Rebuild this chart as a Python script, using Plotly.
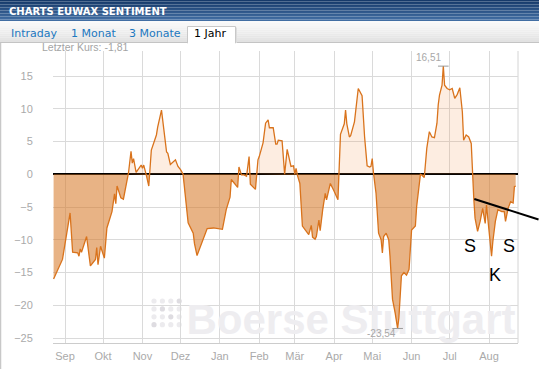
import pandas as pd
import plotly.graph_objects as go

# ---------------- data ----------------
DATES = [
    '2010-08-23', '2010-08-30', '2010-09-05', '2010-09-07', '2010-09-11', '2010-09-12',
    '2010-09-13', '2010-09-14', '2010-09-18', '2010-09-21', '2010-09-25', '2010-09-26',
    '2010-09-27', '2010-09-29', '2010-10-02', '2010-10-04', '2010-10-08', '2010-10-10',
    '2010-10-11', '2010-10-12', '2010-10-15', '2010-10-17', '2010-10-21', '2010-10-23',
    '2010-10-24', '2010-10-25', '2010-10-27', '2010-10-31', '2010-11-01', '2010-11-02',
    '2010-11-04', '2010-11-06', '2010-11-08', '2010-11-12', '2010-11-13', '2010-11-16',
    '2010-11-20', '2010-11-21', '2010-11-23', '2010-11-27', '2010-11-29', '2010-12-01',
    '2010-12-03', '2010-12-04', '2010-12-07', '2010-12-11', '2010-12-12', '2010-12-14',
    '2010-12-18', '2010-12-22', '2010-12-27', '2011-01-03', '2011-01-06', '2011-01-09',
    '2011-01-10', '2011-01-15', '2011-01-16', '2011-01-18', '2011-01-20', '2011-01-22',
    '2011-01-24', '2011-01-25', '2011-01-29', '2011-01-31', '2011-02-01', '2011-02-04',
    '2011-02-06', '2011-02-08', '2011-02-09', '2011-02-12', '2011-02-14', '2011-02-15',
    '2011-02-16', '2011-02-19', '2011-02-21', '2011-02-23', '2011-02-26', '2011-02-28',
    '2011-03-01', '2011-03-02', '2011-03-03', '2011-03-05', '2011-03-07', '2011-03-12',
    '2011-03-14', '2011-03-15', '2011-03-17', '2011-03-18', '2011-03-20', '2011-03-21',
    '2011-03-23', '2011-03-25', '2011-03-26', '2011-03-29', '2011-04-01', '2011-04-04',
    '2011-04-06', '2011-04-09', '2011-04-10', '2011-04-11', '2011-04-13', '2011-04-14',
    '2011-04-17', '2011-04-19', '2011-04-20', '2011-04-23', '2011-04-25', '2011-04-27',
    '2011-04-29', '2011-04-30', '2011-05-01', '2011-05-02', '2011-05-04', '2011-05-06',
    '2011-05-08', '2011-05-09', '2011-05-10', '2011-05-12', '2011-05-14', '2011-05-15',
    '2011-05-17', '2011-05-19', '2011-05-21', '2011-05-22', '2011-05-24', '2011-05-26',
    '2011-05-28', '2011-05-30', '2011-06-01', '2011-06-04', '2011-06-05', '2011-06-08',
    '2011-06-09', '2011-06-11', '2011-06-13', '2011-06-15', '2011-06-17', '2011-06-19',
    '2011-06-21', '2011-06-22', '2011-06-23', '2011-06-25', '2011-06-26', '2011-06-27',
    '2011-06-29', '2011-07-01', '2011-07-03', '2011-07-05', '2011-07-07', '2011-07-09',
    '2011-07-11', '2011-07-12', '2011-07-14', '2011-07-16', '2011-07-18', '2011-07-20',
    '2011-07-21', '2011-07-23', '2011-07-25', '2011-07-27', '2011-07-29', '2011-07-30',
    '2011-08-01', '2011-08-03', '2011-08-04', '2011-08-06', '2011-08-08', '2011-08-11',
    '2011-08-13', '2011-08-14', '2011-08-16', '2011-08-18', '2011-08-20', '2011-08-21',
    '2011-08-22',
]
VALUES = [
    -16.0, -13.0, -5.9, -11.9, -12.0, -12.5,
    -11.4, -11.9, -9.5, -14.0, -13.0, -11.2,
    -13.8, -11.0, -12.8, -8.2, -5.7, -3.0,
    -4.5, -1.8, -3.6, -3.8, 0.2, 3.5,
    1.7, 2.4, 0.3, 1.4, 0.9, 1.4,
    -0.1, -1.8, 3.7, 6.0, 7.2, 9.8,
    3.4, 3.2, 1.5, 2.2, 1.2, 0.7,
    0.0, -2.1, -7.4, -9.0, -10.6, -12.4,
    -10.5, -8.3, -8.2, -8.4, -5.4, -3.5,
    -0.8, -2.0, 1.1, -0.1, -0.1, -0.3,
    2.7, -1.5, -2.3, 2.2, 2.7, 4.8,
    7.8, 8.3, 7.1, 7.1, 4.6, 4.6,
    5.2, 5.1, 0.0, 3.8, 1.2, 1.3,
    0.0, 0.9, -0.1, -1.4, -7.9, -9.2,
    -7.8, -9.6, -9.9, -9.5, -7.0, -8.6,
    -5.4, -2.9, -3.9, -1.4, -2.6, -3.9,
    6.1, 7.7, 9.8, 7.7, 5.7, 5.9,
    8.0, 11.3, 13.1, 12.0, 5.7, 1.3,
    1.1, 1.2, 2.4, 0.2, -2.9, -9.0,
    -10.0, -12.0, -9.5, -9.0, -10.0, -12.5,
    -19.1, -21.1, -23.54, -21.9, -15.5, -15.0,
    -15.4, -14.5, -8.5, -7.9, -4.9, 0.0,
    -0.1, -0.5, 4.0, 6.5, 5.7, 5.6,
    7.8, 10.6, 12.1, 13.6, 16.51, 13.6,
    13.1, 12.9, 13.1, 11.6, 12.2, 13.2,
    9.5, 5.2, 6.0, 5.7, 4.7, -3.7,
    -6.7, -8.7, -7.2, -5.2, -7.5, -4.7,
    -8.2, -12.5, -10.3, -7.2, -5.4, -5.7,
    -5.7, -7.2, -5.2, -4.2, -4.4, -1.9,
    -1.81,
]
MONTH_TICKS = ['2010-09-01', '2010-10-01', '2010-11-01', '2010-12-01', '2011-01-01', '2011-02-01',
               '2011-03-01', '2011-04-01', '2011-05-01', '2011-06-01', '2011-07-01', '2011-08-01']
MONTH_LABELS = ['Sep', 'Okt', 'Nov', 'Dez', 'Jan', 'Feb', 'Mär', 'Apr', 'Mai', 'Jun', 'Jul', 'Aug']
Y_TICKS = [15, 10, 5, 0, -5, -10, -15, -20, -25]
TABS = ['Intraday', '1 Monat', '3 Monate', '1 Jahr']
TITLE = 'CHARTS EUWAX SENTIMENT'
LAST_LABEL = 'Letzter Kurs:'
TREND_DATES = ['2011-07-20 10:00', '2011-09-09']
TREND_VALUES = [-3.77, -6.9]
PATTERN_LABELS = ['S', 'K', 'S']
PATTERN_DATES = ['2011-07-17', '2011-08-05 16:00', '2011-08-16 20:00']
PATTERN_VALUES = [-10.95, -15.4, -10.95]
WATERMARK = 'Boerse Stuttgart'

# ---------------- geometry / style ----------------
W, H = 539, 369
ML, MR, MT, MB = 53, 21, 51, 26
PW, PH = W - ML - MR, H - MT - MB
X_RANGE = ['2010-08-22 13:00', '2011-08-23 20:00']
Y_RANGE = [-25.76, 18.82]

LINE_C = '#d9731c'
NEG_FILL = 'rgba(214,120,38,0.56)'
POS_FILL = 'rgba(242,140,70,0.16)'
GRID_C = '#dadada'
TICK_C = '#aaaaaa'
AX_FONT = 'Liberation Sans, Arial, sans-serif'
UI_FONT = 'DejaVu Sans, Verdana, sans-serif'


def px_x(x):
    return (x - ML) / PW


def px_y(y):
    return (H - MB - y) / PH


x0_ts, x1_ts = pd.Timestamp(X_RANGE[0]), pd.Timestamp(X_RANGE[1])


def date_to_paper(d):
    return (pd.Timestamp(d) - x0_ts) / (x1_ts - x0_ts)


def val_to_paper(v):
    return (v - Y_RANGE[0]) / (Y_RANGE[1] - Y_RANGE[0])


# ---------------- split into positive / negative fill (with zero crossings) ----------------
ts = [pd.Timestamp(d) for d in DATES]
pos_x, pos_y, neg_x, neg_y = [], [], [], []
for i, (t, v) in enumerate(zip(ts, VALUES)):
    if i > 0:
        pv = VALUES[i - 1]
        if pv * v < 0:
            frac = pv / (pv - v)
            tc = ts[i - 1] + (t - ts[i - 1]) * frac
            pos_x.append(tc); pos_y.append(0)
            neg_x.append(tc); neg_y.append(0)
    pos_x.append(t); pos_y.append(max(v, 0))
    neg_x.append(t); neg_y.append(min(v, 0))

fig = go.Figure()

# watermark (below the data)
wm_x = x0_ts + (x1_ts - x0_ts) * px_x(351)
wm_y = Y_RANGE[0] + (Y_RANGE[1] - Y_RANGE[0]) * px_y(323)
fig.add_trace(go.Scatter(x=[wm_x], y=[wm_y], mode='text', text=[WATERMARK],
                         textfont=dict(family=AX_FONT, size=42, color='#eeedf0', weight='bold'),
                         hoverinfo='skip', showlegend=False))

fig.add_trace(go.Scatter(x=neg_x, y=neg_y, mode='lines', fill='tozeroy', fillcolor=NEG_FILL,
                         line=dict(width=0), hoverinfo='skip', showlegend=False))
fig.add_trace(go.Scatter(x=pos_x, y=pos_y, mode='lines', fill='tozeroy', fillcolor=POS_FILL,
                         line=dict(width=0), hoverinfo='skip', showlegend=False))
fig.add_trace(go.Scatter(x=ts, y=VALUES, mode='lines', line=dict(color=LINE_C, width=1.3),
                         hoverinfo='skip', showlegend=False))

shapes = []
annotations = []

# header bar (gradient)
N = 14
top_c, bot_c = (22, 58, 106), (66, 110, 163)
for i in range(N):
    f = i / (N - 1)
    c = tuple(int(round(top_c[k] + (bot_c[k] - top_c[k]) * f)) for k in range(3))
    y0 = 21 * i / N
    y1 = 21 * (i + 1) / N
    shapes.append(dict(type='rect', xref='paper', yref='paper', x0=px_x(0), x1=px_x(W),
                       y0=px_y(y1), y1=px_y(y0), fillcolor='rgb(%d,%d,%d)' % c, line=dict(width=0),
                       layer='above'))
# tab bar gradient
N2 = 10
tb_top, tb_bot = (250, 250, 250), (226, 226, 226)
for i in range(N2):
    f = i / (N2 - 1)
    c = tuple(int(round(tb_top[k] + (tb_bot[k] - tb_top[k]) * f)) for k in range(3))
    y0 = 21 + 21 * i / N2
    y1 = 21 + 21 * (i + 1) / N2
    shapes.append(dict(type='rect', xref='paper', yref='paper', x0=px_x(0), x1=px_x(W),
                       y0=px_y(y1), y1=px_y(y0), fillcolor='rgb(%d,%d,%d)' % c, line=dict(width=0),
                       layer='above'))
shapes.append(dict(type='line', xref='paper', yref='paper', x0=px_x(0), x1=px_x(W),
                   y0=px_y(42.5), y1=px_y(42.5), line=dict(color='#c4c4c4', width=1), layer='above'))
# selected tab
shapes.append(dict(type='rect', xref='paper', yref='paper', x0=px_x(187.5), x1=px_x(235.5),
                   y0=px_y(43), y1=px_y(26.5), fillcolor='white', line=dict(color='#c8c8c8', width=1),
                   layer='above'))
shapes.append(dict(type='line', xref='paper', yref='paper', x0=px_x(236.5), x1=px_x(236.5),
                   y0=px_y(43), y1=px_y(27.5), line=dict(color='#dddddd', width=1), layer='above'))
shapes.append(dict(type='rect', xref='paper', yref='paper', x0=px_x(188), x1=px_x(235),
                   y0=px_y(44), y1=px_y(41), fillcolor='white', line=dict(width=0), layer='above'))
# left page border
shapes.append(dict(type='line', xref='paper', yref='paper', x0=px_x(0.5), x1=px_x(0.5),
                   y0=px_y(H), y1=px_y(43), line=dict(color='#c8c8c8', width=1.5), layer='above'))
# right frame line of plot
shapes.append(dict(type='line', xref='paper', yref='paper', x0=1, x1=1, y0=0, y1=1,
                   line=dict(color='#d4d4d4', width=1), layer='below'))

# watermark dots logo
DOT_SHADE = [[0, 0, 0, 1], [0, 1, 0, 0], [0, 0, 1, 0], [1, 0, 0, 0]]
for r in range(4):
    for c in range(4):
        cx = 154 + c * 8.4
        cy = 301 + r * 7.9
        col = '#dedce1' if DOT_SHADE[r][c] else '#ecebee'
        shapes.append(dict(type='circle', xref='paper', yref='paper',
                           x0=px_x(cx - 2.6), x1=px_x(cx + 2.6), y0=px_y(cy + 2.6), y1=px_y(cy - 2.6),
                           fillcolor=col, line=dict(width=0), layer='below'))

# max / min markers
imax = max(range(len(VALUES)), key=lambda i: VALUES[i])
imin = min(range(len(VALUES)), key=lambda i: VALUES[i])
for idx, shift in ((imax, 9), (imin, -5)):
    d = pd.Timestamp(DATES[idx])
    shapes.append(dict(type='line', xref='x', yref='y', x0=d - pd.Timedelta(days=4.2),
                       x1=d + pd.Timedelta(days=4.2), y0=VALUES[idx], y1=VALUES[idx],
                       line=dict(color='#9a9a9a', width=1), layer='above'))
    annotations.append(dict(x=d, y=VALUES[idx], xref='x', yref='y', showarrow=False,
                            text=('%.2f' % VALUES[idx]).replace('.', ','), xanchor='right',
                            yanchor='middle', yshift=shift, xshift=0,
                            font=dict(family=AX_FONT, size=10, color='#a8a8a8')))

# trendline (extends past plot area)
shapes.append(dict(type='line', xref='paper', yref='paper',
                   x0=date_to_paper(TREND_DATES[0]), x1=date_to_paper(TREND_DATES[1]),
                   y0=val_to_paper(TREND_VALUES[0]), y1=val_to_paper(TREND_VALUES[1]),
                   line=dict(color='black', width=2), layer='above'))

for lab, d, v in zip(PATTERN_LABELS, PATTERN_DATES, PATTERN_VALUES):
    annotations.append(dict(x=d, y=v, xref='x', yref='y', showarrow=False, text=lab,
                            font=dict(family=AX_FONT, size=18, color='black')))

# header texts
annotations.append(dict(x=px_x(6.5), y=px_y(11.5), xref='paper', yref='paper', showarrow=False,
                        text=TITLE, xanchor='left', yanchor='middle',
                        font=dict(family=UI_FONT, size=10, color='white', weight='bold')))
TAB_X = [9, 68.5, 127, 191.5]
for t, tx in zip(TABS, TAB_X):
    annotations.append(dict(x=px_x(tx), y=px_y(33.5), xref='paper', yref='paper', showarrow=False,
                            text=t, xanchor='left', yanchor='middle',
                            font=dict(family=UI_FONT, size=11,
                                      color='black' if t == TABS[-1] else '#1c78c0')))
annotations.append(dict(x=px_x(39.5), y=px_y(46.8), xref='paper', yref='paper', showarrow=False,
                        text=LAST_LABEL + ' ' + ('%.2f' % VALUES[-1]).replace('.', ','),
                        xanchor='left', yanchor='middle',
                        font=dict(family=AX_FONT, size=10.5, color='#a4a4a4')))

fig.update_layout(
    width=W, height=H, autosize=False,
    margin=dict(l=ML, r=MR, t=MT, b=MB, pad=0),
    paper_bgcolor='white', plot_bgcolor='white',
    showlegend=False, hovermode=False,
    shapes=shapes, annotations=annotations,
    xaxis=dict(type='date', range=X_RANGE, tickvals=MONTH_TICKS, ticktext=MONTH_LABELS,
               showgrid=True, gridcolor=GRID_C, gridwidth=1, zeroline=False, automargin=False,
               showline=True, linecolor='#cccccc', linewidth=1,
               ticks='outside', ticklen=3, tickcolor='rgba(0,0,0,0)',
               tickfont=dict(family=AX_FONT, size=11, color=TICK_C), fixedrange=True),
    yaxis=dict(range=Y_RANGE, tickvals=Y_TICKS, showgrid=True, gridcolor=GRID_C, gridwidth=1,
               zeroline=True, zerolinecolor='black', zerolinewidth=1.5, showline=False,
               automargin=False,
               ticks='outside', ticklen=17, tickcolor='rgba(0,0,0,0)',
               tickfont=dict(family=AX_FONT, size=11, color=TICK_C), fixedrange=True),
)

fig.write_html('out.html', config=dict(displayModeBar=False),
               post_script="document.body.style.margin='0';document.body.style.overflow='hidden';")
